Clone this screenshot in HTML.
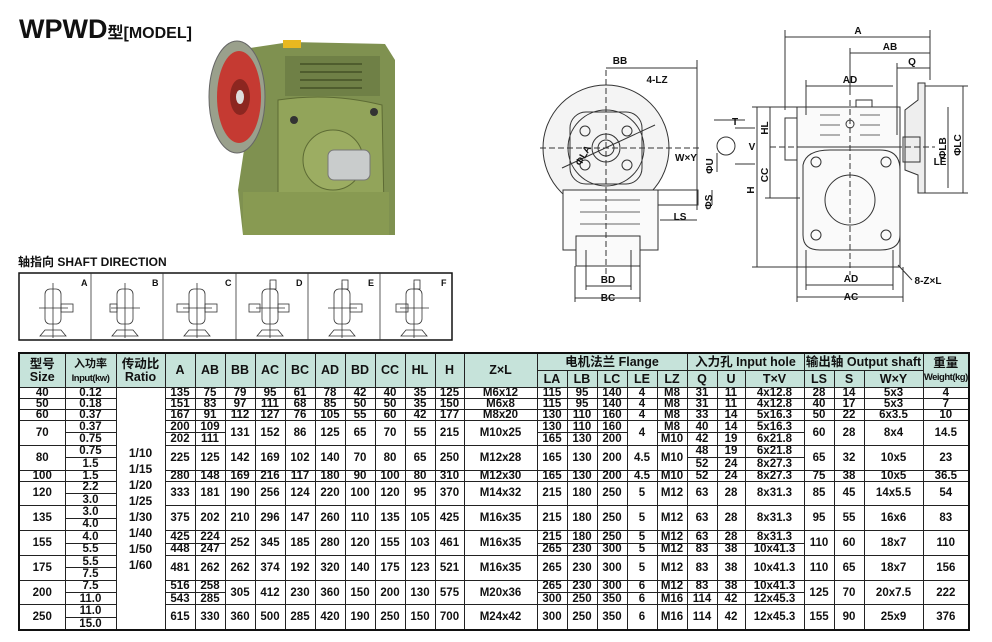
<!DOCTYPE html>
<html><head><meta charset="utf-8"><style>
body{margin:0;width:992px;height:642px;background:#fff;position:relative;overflow:hidden;font-family:"Liberation Sans","Noto Sans CJK SC",sans-serif;}
.abs{position:absolute}
table.t{position:absolute;left:18px;top:352px;border-collapse:collapse;table-layout:fixed;width:950px;font-weight:bold;font-size:11.5px;color:#111;border:2px solid #111}
table.t td{border:1px solid #222;padding:0;text-align:center;line-height:10px;overflow:hidden;white-space:nowrap}
table.t tr.h td{background:#c6e3da;height:16px;font-size:12.5px;line-height:13px}
table.t tr.s td{height:10px}
table.t tr.d td{height:11.4px}
.sm{font-size:9.5px;letter-spacing:-0.5px}
</style></head><body>
<div class="abs" style="left:19px;top:14px;font-weight:bold;font-size:27px;color:#111">WPWD<span style="font-size:16px;font-weight:600">型[MODEL]</span></div>

<svg class="abs" style="left:0;top:0" width="992" height="350" xmlns="http://www.w3.org/2000/svg">
<g>
<polygon points="250,48 290,42 385,44 395,60 395,235 243,235 238,190 244,150 256,70" fill="#7f9150"/>
<rect x="285" y="56" width="95" height="40" fill="#6f8046"/>
<g stroke="#4f5d2e" stroke-width="2"><line x1="300" y1="64" x2="362" y2="64"/><line x1="300" y1="72" x2="362" y2="72"/><line x1="300" y1="80" x2="362" y2="80"/><line x1="300" y1="88" x2="362" y2="88"/></g>
<path d="M278,100 Q330,92 382,105 L384,210 Q330,220 278,210 Z" fill="#92a45a" stroke="#5d6b34"/>
<circle cx="333" cy="160" r="30" fill="#9cad62" stroke="#5d6b34"/>
<circle cx="294" cy="120" r="4" fill="#333"/><circle cx="374" cy="112" r="4" fill="#333"/><circle cx="294" cy="210" r="4" fill="#333"/><circle cx="372" cy="200" r="4" fill="#333"/>
<rect x="328" y="150" width="42" height="30" rx="6" fill="#c9cccc" stroke="#777"/>
<rect x="243" y="192" width="146" height="43" fill="#889a52"/>
<ellipse cx="237" cy="97" rx="28" ry="56" fill="#9aa08c" stroke="#666"/>
<ellipse cx="239" cy="97" rx="22" ry="46" fill="#c53a32"/>
<ellipse cx="240" cy="97" rx="10" ry="18" fill="#8c2620"/>
<ellipse cx="240" cy="97" rx="4" ry="7" fill="#ddd"/>
<rect x="283" y="40" width="18" height="8" fill="#e8b820"/>
</g>
<g fill="none" stroke="#333" stroke-width="1">
<circle cx="606" cy="148" r="63" fill="#f4f4f4"/>
<rect x="570" y="112" width="72" height="72" rx="16"/>
<circle cx="606" cy="148" r="38"/>
<circle cx="606" cy="148" r="14"/><circle cx="606" cy="148" r="8"/>
<circle cx="585" cy="131" r="5"/><circle cx="627" cy="131" r="5"/><circle cx="585" cy="165" r="5"/><circle cx="627" cy="165" r="5"/>
<rect x="563" y="190" width="95" height="60" fill="#fafafa"/>
<rect x="576" y="236" width="64" height="30" fill="#fafafa"/>
<g stroke-width="0.8"><line x1="580" y1="200" x2="640" y2="200"/><line x1="580" y1="212" x2="640" y2="212"/><line x1="580" y1="224" x2="640" y2="224"/></g>
<rect x="658" y="190" width="40" height="15"/>
<line x1="606" y1="70" x2="606" y2="275" stroke-dasharray="6,3"/>
<line x1="540" y1="148" x2="700" y2="148" stroke-dasharray="6,3"/>
<line x1="562" y1="168" x2="655" y2="125"/>
<line x1="606" y1="68" x2="697" y2="68"/><line x1="697" y1="60" x2="697" y2="210"/>
<line x1="586" y1="286" x2="631" y2="286"/><line x1="575" y1="298" x2="640" y2="298"/>
<line x1="586" y1="250" x2="586" y2="290"/><line x1="631" y1="250" x2="631" y2="290"/><line x1="575" y1="266" x2="575" y2="302"/><line x1="640" y1="266" x2="640" y2="302"/>
<line x1="660" y1="220" x2="697" y2="220"/>
<circle cx="726" cy="146" r="9"/><line x1="714" y1="120" x2="745" y2="120"/><line x1="735" y1="128" x2="755" y2="128"/><line x1="735" y1="164" x2="755" y2="164"/>
<line x1="717" y1="172" x2="717" y2="153"/><line x1="712" y1="190" x2="712" y2="205"/>
<rect x="797" y="107" width="103" height="160" fill="#fafafa"/>
<rect x="797" y="107" width="103" height="40"/>
<rect x="785" y="118" width="12" height="42"/>
<path d="M803,165 Q806,150 830,150 L880,150 Q900,150 900,170 L900,235 Q900,250 880,250 L820,250 Q803,250 803,235 Z"/>
<circle cx="850" cy="200" r="25"/>
<circle cx="816" cy="162" r="5"/><circle cx="886" cy="162" r="5"/><circle cx="816" cy="235" r="5"/><circle cx="886" cy="235" r="5"/>
<g stroke-width="0.8"><line x1="820" y1="115" x2="840" y2="115"/><line x1="860" y1="115" x2="880" y2="115"/><line x1="820" y1="125" x2="840" y2="125"/><line x1="860" y1="125" x2="880" y2="125"/><line x1="820" y1="135" x2="840" y2="135"/><line x1="860" y1="135" x2="880" y2="135"/></g>
<circle cx="850" cy="124" r="4"/><rect x="856" y="100" width="16" height="7"/>
<path d="M918,83 L925,83 L925,193 L918,193 L918,175 L905,170 L905,110 L918,100 Z" fill="#eee"/>
<rect x="903" y="137" width="17" height="25"/>
<line x1="850" y1="100" x2="850" y2="275" stroke-dasharray="6,3"/>
<line x1="770" y1="147" x2="935" y2="147" stroke-dasharray="6,3"/>
<line x1="785" y1="37" x2="930" y2="37"/><line x1="785" y1="30" x2="785" y2="110"/><line x1="930" y1="30" x2="930" y2="80"/>
<line x1="850" y1="53" x2="930" y2="53"/><line x1="850" y1="48" x2="850" y2="95"/>
<line x1="897" y1="68" x2="930" y2="68"/><line x1="897" y1="63" x2="897" y2="135"/>
<line x1="806" y1="86" x2="893" y2="86"/><line x1="806" y1="80" x2="806" y2="115"/>
<line x1="770" y1="107" x2="770" y2="198"/><line x1="757" y1="107" x2="757" y2="267"/>
<line x1="752" y1="107" x2="800" y2="107"/><line x1="752" y1="267" x2="800" y2="267"/><line x1="765" y1="198" x2="800" y2="198"/>
<line x1="806" y1="285" x2="893" y2="285"/><line x1="797" y1="297" x2="903" y2="297"/>
<line x1="797" y1="267" x2="797" y2="302"/><line x1="903" y1="267" x2="903" y2="302"/><line x1="806" y1="250" x2="806" y2="290"/><line x1="893" y1="250" x2="893" y2="290"/>
<line x1="948" y1="107" x2="948" y2="188"/><line x1="963" y1="86" x2="963" y2="193"/>
<line x1="925" y1="86" x2="968" y2="86"/><line x1="925" y1="193" x2="968" y2="193"/>
<line x1="898" y1="265" x2="912" y2="280"/>
</g>
<g font-family="Liberation Sans,sans-serif" font-weight="bold" font-size="10" fill="#111" text-anchor="middle">
<text x="620" y="64">BB</text><text x="657" y="83">4-LZ</text><text x="686" y="161">W×Y</text>
<text x="680" y="220">LS</text><text x="608" y="283">BD</text><text x="608" y="301">BC</text>
<text x="586" y="157" transform="rotate(-60 586 157)">ΦLA</text>
<text x="735" y="125">T</text><text x="752" y="150">V</text>
<text x="713" y="166" transform="rotate(-90 713 166)">ΦU</text><text x="712" y="202" transform="rotate(-90 712 202)">ΦS</text>
<text x="858" y="34">A</text><text x="890" y="50">AB</text><text x="912" y="65">Q</text>
<text x="850" y="83">AD</text><text x="851" y="282">AD</text><text x="851" y="300">AC</text>
<text x="768" y="128" transform="rotate(-90 768 128)">HL</text><text x="768" y="175" transform="rotate(-90 768 175)">CC</text><text x="754" y="190" transform="rotate(-90 754 190)">H</text>
<text x="946" y="148" transform="rotate(-90 946 148)">ΦLB</text><text x="961" y="145" transform="rotate(-90 961 145)">ΦLC</text>
<text x="940" y="165">LE</text><text x="928" y="284">8-Z×L</text>
</g>
<text x="18" y="266" font-family="Liberation Sans,Noto Sans CJK SC,sans-serif" font-weight="bold" font-size="12" fill="#111">轴指向  SHAFT DIRECTION</text>
<rect x="19" y="273" width="433" height="67" fill="none" stroke="#111" stroke-width="1.5"/>
<g stroke="#333" fill="none" stroke-width="0.8">
<line x1="91" y1="273" x2="91" y2="340"/><line x1="163" y1="273" x2="163" y2="340"/><line x1="236" y1="273" x2="236" y2="340"/><line x1="308" y1="273" x2="308" y2="340"/><line x1="380" y1="273" x2="380" y2="340"/>
<g id="m"><rect x="45" y="289" width="16" height="35" rx="5"/><polygon points="45,330 61,330 66,336 40,336"/><line x1="39" y1="308" x2="68" y2="308"/><line x1="53" y1="283" x2="53" y2="338"/></g>
<use href="#m" x="72"/><use href="#m" x="144"/><use href="#m" x="217"/><use href="#m" x="289"/><use href="#m" x="361"/>
<rect x="61" y="304" width="12" height="8"/><rect x="110" y="304" width="7" height="8"/><rect x="177" y="304" width="12" height="8"/><rect x="205" y="304" width="12" height="8"/>
<rect x="249" y="304" width="11" height="8"/><rect x="278" y="304" width="11" height="8"/><rect x="270" y="280" width="6" height="9"/>
<rect x="342" y="280" width="6" height="9"/><rect x="350" y="304" width="12" height="8"/><rect x="414" y="280" width="6" height="9"/><rect x="396" y="304" width="12" height="8"/>
</g>
<g font-family="Liberation Sans,sans-serif" font-weight="bold" font-size="9" fill="#111"><text x="81" y="286">A</text><text x="152" y="286">B</text><text x="225" y="286">C</text><text x="296" y="286">D</text><text x="368" y="286">E</text><text x="441" y="286">F</text></g>
</svg>

<table class="t">
<colgroup><col style="width:46px"><col style="width:51px"><col style="width:49px"><col style="width:30px"><col style="width:30px"><col style="width:30px"><col style="width:30px"><col style="width:30px"><col style="width:30px"><col style="width:30px"><col style="width:30px"><col style="width:30px"><col style="width:29px"><col style="width:73px"><col style="width:30px"><col style="width:30px"><col style="width:30px"><col style="width:30px"><col style="width:30px"><col style="width:30px"><col style="width:28px"><col style="width:59px"><col style="width:30px"><col style="width:30px"><col style="width:59px"><col style="width:46px"></colgroup>
<tr class="h"><td rowspan="2">型号<br>Size</td><td rowspan="2"><span style="font-size:11px">入功率</span><br><span class="sm">Input(kw)</span></td><td rowspan="2">传动比<br>Ratio</td><td rowspan="2">A</td><td rowspan="2">AB</td><td rowspan="2">BB</td><td rowspan="2">AC</td><td rowspan="2">BC</td><td rowspan="2">AD</td><td rowspan="2">BD</td><td rowspan="2">CC</td><td rowspan="2">HL</td><td rowspan="2">H</td><td rowspan="2">Z×L</td><td colspan="5">电机法兰 Flange</td><td colspan="3">入力孔 Input hole</td><td colspan="3">输出轴 Output shaft</td><td rowspan="2">重量<br><span class="sm">Weight(kg)</span></td></tr>
<tr class="h"><td>LA</td><td>LB</td><td>LC</td><td>LE</td><td>LZ</td><td>Q</td><td>U</td><td>T×V</td><td>LS</td><td>S</td><td>W×Y</td></tr>
<tr class="s"><td>40</td><td>0.12</td><td rowspan="20" style="font-size:12px;line-height:16px">1/10<br>1/15<br>1/20<br>1/25<br>1/30<br>1/40<br>1/50<br>1/60</td><td>135</td><td>75</td><td>79</td><td>95</td><td>61</td><td>78</td><td>42</td><td>40</td><td>35</td><td>125</td><td>M6x12</td><td>115</td><td>95</td><td>140</td><td>4</td><td>M8</td><td>31</td><td>11</td><td>4x12.8</td><td>28</td><td>14</td><td>5x3</td><td>4</td></tr>
<tr class="s"><td>50</td><td>0.18</td><td>151</td><td>83</td><td>97</td><td>111</td><td>68</td><td>85</td><td>50</td><td>50</td><td>35</td><td>150</td><td>M6x8</td><td>115</td><td>95</td><td>140</td><td>4</td><td>M8</td><td>31</td><td>11</td><td>4x12.8</td><td>40</td><td>17</td><td>5x3</td><td>7</td></tr>
<tr class="s"><td>60</td><td>0.37</td><td>167</td><td>91</td><td>112</td><td>127</td><td>76</td><td>105</td><td>55</td><td>60</td><td>42</td><td>177</td><td>M8x20</td><td>130</td><td>110</td><td>160</td><td>4</td><td>M8</td><td>33</td><td>14</td><td>5x16.3</td><td>50</td><td>22</td><td>6x3.5</td><td>10</td></tr>
<tr class="d"><td rowspan="2">70</td><td>0.37</td><td>200</td><td>109</td><td rowspan="2">131</td><td rowspan="2">152</td><td rowspan="2">86</td><td rowspan="2">125</td><td rowspan="2">65</td><td rowspan="2">70</td><td rowspan="2">55</td><td rowspan="2">215</td><td rowspan="2">M10x25</td><td>130</td><td>110</td><td>160</td><td rowspan="2">4</td><td>M8</td><td>40</td><td>14</td><td>5x16.3</td><td rowspan="2">60</td><td rowspan="2">28</td><td rowspan="2">8x4</td><td rowspan="2">14.5</td></tr>
<tr class="d"><td>0.75</td><td>202</td><td>111</td><td>165</td><td>130</td><td>200</td><td>M10</td><td>42</td><td>19</td><td>6x21.8</td></tr>
<tr class="d"><td rowspan="2">80</td><td>0.75</td><td rowspan="2">225</td><td rowspan="2">125</td><td rowspan="2">142</td><td rowspan="2">169</td><td rowspan="2">102</td><td rowspan="2">140</td><td rowspan="2">70</td><td rowspan="2">80</td><td rowspan="2">65</td><td rowspan="2">250</td><td rowspan="2">M12x28</td><td rowspan="2">165</td><td rowspan="2">130</td><td rowspan="2">200</td><td rowspan="2">4.5</td><td rowspan="2">M10</td><td>48</td><td>19</td><td>6x21.8</td><td rowspan="2">65</td><td rowspan="2">32</td><td rowspan="2">10x5</td><td rowspan="2">23</td></tr>
<tr class="d"><td>1.5</td><td>52</td><td>24</td><td>8x27.3</td></tr>
<tr class="s"><td>100</td><td>1.5</td><td>280</td><td>148</td><td>169</td><td>216</td><td>117</td><td>180</td><td>90</td><td>100</td><td>80</td><td>310</td><td>M12x30</td><td>165</td><td>130</td><td>200</td><td>4.5</td><td>M10</td><td>52</td><td>24</td><td>8x27.3</td><td>75</td><td>38</td><td>10x5</td><td>36.5</td></tr>
<tr class="d"><td rowspan="2">120</td><td>2.2</td><td rowspan="2">333</td><td rowspan="2">181</td><td rowspan="2">190</td><td rowspan="2">256</td><td rowspan="2">124</td><td rowspan="2">220</td><td rowspan="2">100</td><td rowspan="2">120</td><td rowspan="2">95</td><td rowspan="2">370</td><td rowspan="2">M14x32</td><td rowspan="2">215</td><td rowspan="2">180</td><td rowspan="2">250</td><td rowspan="2">5</td><td rowspan="2">M12</td><td rowspan="2">63</td><td rowspan="2">28</td><td rowspan="2">8x31.3</td><td rowspan="2">85</td><td rowspan="2">45</td><td rowspan="2">14x5.5</td><td rowspan="2">54</td></tr>
<tr class="d"><td>3.0</td></tr>
<tr class="d"><td rowspan="2">135</td><td>3.0</td><td rowspan="2">375</td><td rowspan="2">202</td><td rowspan="2">210</td><td rowspan="2">296</td><td rowspan="2">147</td><td rowspan="2">260</td><td rowspan="2">110</td><td rowspan="2">135</td><td rowspan="2">105</td><td rowspan="2">425</td><td rowspan="2">M16x35</td><td rowspan="2">215</td><td rowspan="2">180</td><td rowspan="2">250</td><td rowspan="2">5</td><td rowspan="2">M12</td><td rowspan="2">63</td><td rowspan="2">28</td><td rowspan="2">8x31.3</td><td rowspan="2">95</td><td rowspan="2">55</td><td rowspan="2">16x6</td><td rowspan="2">83</td></tr>
<tr class="d"><td>4.0</td></tr>
<tr class="d"><td rowspan="2">155</td><td>4.0</td><td>425</td><td>224</td><td rowspan="2">252</td><td rowspan="2">345</td><td rowspan="2">185</td><td rowspan="2">280</td><td rowspan="2">120</td><td rowspan="2">155</td><td rowspan="2">103</td><td rowspan="2">461</td><td rowspan="2">M16x35</td><td>215</td><td>180</td><td>250</td><td>5</td><td>M12</td><td>63</td><td>28</td><td>8x31.3</td><td rowspan="2">110</td><td rowspan="2">60</td><td rowspan="2">18x7</td><td rowspan="2">110</td></tr>
<tr class="d"><td>5.5</td><td>448</td><td>247</td><td>265</td><td>230</td><td>300</td><td>5</td><td>M12</td><td>83</td><td>38</td><td>10x41.3</td></tr>
<tr class="d"><td rowspan="2">175</td><td>5.5</td><td rowspan="2">481</td><td rowspan="2">262</td><td rowspan="2">262</td><td rowspan="2">374</td><td rowspan="2">192</td><td rowspan="2">320</td><td rowspan="2">140</td><td rowspan="2">175</td><td rowspan="2">123</td><td rowspan="2">521</td><td rowspan="2">M16x35</td><td rowspan="2">265</td><td rowspan="2">230</td><td rowspan="2">300</td><td rowspan="2">5</td><td rowspan="2">M12</td><td rowspan="2">83</td><td rowspan="2">38</td><td rowspan="2">10x41.3</td><td rowspan="2">110</td><td rowspan="2">65</td><td rowspan="2">18x7</td><td rowspan="2">156</td></tr>
<tr class="d"><td>7.5</td></tr>
<tr class="d"><td rowspan="2">200</td><td>7.5</td><td>516</td><td>258</td><td rowspan="2">305</td><td rowspan="2">412</td><td rowspan="2">230</td><td rowspan="2">360</td><td rowspan="2">150</td><td rowspan="2">200</td><td rowspan="2">130</td><td rowspan="2">575</td><td rowspan="2">M20x36</td><td>265</td><td>230</td><td>300</td><td>6</td><td>M12</td><td>83</td><td>38</td><td>10x41.3</td><td rowspan="2">125</td><td rowspan="2">70</td><td rowspan="2">20x7.5</td><td rowspan="2">222</td></tr>
<tr class="d"><td>11.0</td><td>543</td><td>285</td><td>300</td><td>250</td><td>350</td><td>6</td><td>M16</td><td>114</td><td>42</td><td>12x45.3</td></tr>
<tr class="d"><td rowspan="2">250</td><td>11.0</td><td rowspan="2">615</td><td rowspan="2">330</td><td rowspan="2">360</td><td rowspan="2">500</td><td rowspan="2">285</td><td rowspan="2">420</td><td rowspan="2">190</td><td rowspan="2">250</td><td rowspan="2">150</td><td rowspan="2">700</td><td rowspan="2">M24x42</td><td rowspan="2">300</td><td rowspan="2">250</td><td rowspan="2">350</td><td rowspan="2">6</td><td rowspan="2">M16</td><td rowspan="2">114</td><td rowspan="2">42</td><td rowspan="2">12x45.3</td><td rowspan="2">155</td><td rowspan="2">90</td><td rowspan="2">25x9</td><td rowspan="2">376</td></tr>
<tr class="d"><td>15.0</td></tr>
</table>
</body></html>
